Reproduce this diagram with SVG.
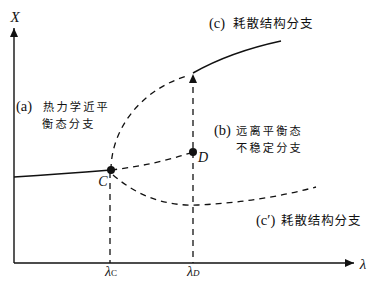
<svg xmlns="http://www.w3.org/2000/svg" width="379" height="281" viewBox="0 0 379 281">
<style>
.ax{fill:none;stroke:#111;stroke-width:1.4}
.sol{fill:none;stroke:#111;stroke-width:1.5}
.dash{fill:none;stroke:#111;stroke-width:1.3;stroke-dasharray:6 5}
.lbl{font-family:"Liberation Serif","Noto Sans CJK SC",serif;font-size:14.5px;fill:#111}
.cjk{font-family:"Noto Sans CJK SC",sans-serif;font-size:12.5px;letter-spacing:0.9px}
.cjk2{font-family:"Noto Sans CJK SC",sans-serif;font-size:11.2px;letter-spacing:2.2px}
.it{font-family:"Liberation Serif",serif;font-style:italic;fill:#111}
</style>
<defs>
<marker id="ah" markerWidth="10" markerHeight="10" refX="9" refY="5" orient="auto" markerUnits="userSpaceOnUse">
<path d="M0,1 L9,5 L0,9 Z" fill="#111"/>
</marker>
</defs>
<rect width="379" height="281" fill="#fff"/>
<g id="axes">
<line class="ax" x1="14" y1="263" x2="14" y2="28" marker-end="url(#ah)"/>
<line class="ax" x1="14" y1="263" x2="354" y2="263" marker-end="url(#ah)"/>
<text class="it" x="15" y="22" font-size="15" text-anchor="middle">X</text>
<text class="it" x="363" y="269" font-size="15" text-anchor="middle">λ</text>
</g>
<g id="connectors">
<path class="sol" d="M14,177 Q60,174 111,170"/>
<path class="dash" d="M111,170 C111,130 140,90 187,76"/>
<path class="dash" d="M111,170 Q155,165 193,152"/>
<path class="dash" d="M113,175 Q150,207 198,205 Q260,202 316,187"/>
<line class="dash" x1="110" y1="172" x2="110" y2="263"/>
<line class="dash" x1="193" y1="152" x2="193" y2="263"/>
<line class="dash" x1="193" y1="148" x2="193" y2="74" marker-end="url(#ah)"/>
<path class="sol" d="M193,73 Q230,52 281,41"/>
</g>
<g id="nodeC">
<circle cx="111" cy="170" r="4" fill="#111"/>
<text class="it" x="103" y="186" font-size="14" text-anchor="middle">C</text>
</g>
<g id="nodeD">
<circle cx="193" cy="152" r="4" fill="#111"/>
<text class="it" x="203" y="162" font-size="14" text-anchor="middle">D</text>
</g>
<g id="ticks">
<text class="it" x="105" y="276" font-size="14">λ<tspan font-size="9" font-style="normal">C</tspan></text>
<text class="it" x="187" y="276" font-size="14">λ<tspan font-size="9">D</tspan></text>
</g>
<g id="labelA">
<text class="lbl" x="16" y="111">(a)<tspan class="cjk2" x="43" y="111">热力学近平</tspan><tspan class="cjk2" x="42" y="127.5">衡态分支</tspan></text>
</g>
<g id="labelB">
<text class="lbl" x="214" y="135">(b)<tspan class="cjk2" x="236" y="135">远离平衡态</tspan><tspan class="cjk2" x="236" y="151.5">不稳定分支</tspan></text>
</g>
<g id="labelC">
<text class="lbl" x="209" y="28">(c)<tspan class="cjk" x="233" y="28">耗散结构分支</tspan></text>
</g>
<g id="labelC2">
<text class="lbl" x="256" y="225">(c′)<tspan class="cjk" x="281" y="225">耗散结构分支</tspan></text>
</g>
</svg>
